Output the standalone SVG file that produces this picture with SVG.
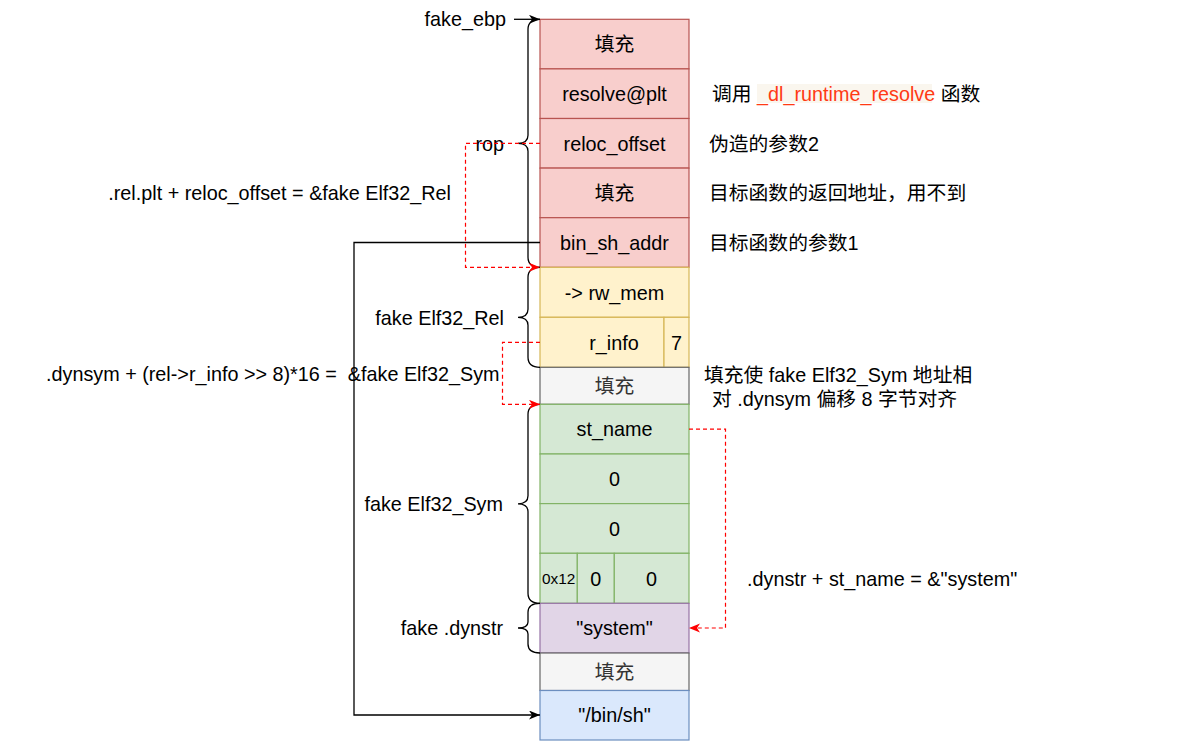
<svg xmlns="http://www.w3.org/2000/svg" width="1180" height="751" viewBox="0 0 1180 751">
<style>
text{font-family:"Liberation Sans","Noto Sans CJK SC",sans-serif;font-size:19.8px;fill:#000}
.c{text-anchor:middle}
.e{text-anchor:end}
.g{fill:#333333}
.red rect{fill:#f8cecc;stroke:#b85450;stroke-width:1.2}
.yel rect{fill:#fff2cc;stroke:#d6b656;stroke-width:1.2}
.gry rect{fill:#f5f5f5;stroke:#666666;stroke-width:1.2}
.grn rect{fill:#d5e8d4;stroke:#82b366;stroke-width:1.2}
.pur rect{fill:#e1d5e7;stroke:#9673a6;stroke-width:1.2}
.blu rect{fill:#dae8fc;stroke:#6c8ebf;stroke-width:1.2}
.brace{fill:none;stroke:#000;stroke-width:1.3}
.solid{fill:none;stroke:#000;stroke-width:1.3}
.dash{fill:none;stroke:#ff0000;stroke-width:1.2;stroke-dasharray:4 3}
</style>
<defs>
<marker id="ab" markerUnits="userSpaceOnUse" markerWidth="12" markerHeight="10" refX="11" refY="4.5" orient="auto">
<path d="M0,0 L11,4.5 L0,9 L3,4.5 Z" fill="#000"/>
</marker>
<marker id="ar" markerUnits="userSpaceOnUse" markerWidth="12" markerHeight="10" refX="11" refY="4.5" orient="auto">
<path d="M0,0 L11,4.5 L0,9 L3,4.5 Z" fill="#ff0000"/>
</marker>
</defs>
<rect width="1180" height="751" fill="#ffffff"/>

<g id="n-fill1" class="red"><rect x="540" y="19.3" width="149" height="49.6"/><text class="c" x="614.5" y="51">填充</text></g>
<g id="n-resolve" class="red"><rect x="540" y="68.9" width="149" height="49.6"/><text class="c" x="614.5" y="101">resolve@plt</text></g>
<g id="n-reloc" class="red"><rect x="540" y="118.5" width="149" height="49.6"/><text class="c" x="614.5" y="151">reloc_offset</text></g>
<g id="n-fill2" class="red"><rect x="540" y="168.1" width="149" height="49.6"/><text class="c" x="614.5" y="200">填充</text></g>
<g id="n-binsh-addr" class="red"><rect x="540" y="217.7" width="149" height="49.6"/><text class="c" x="614.5" y="250">bin_sh_addr</text></g>

<g id="n-rwmem" class="yel"><rect x="540" y="267.3" width="149" height="50"/><text class="c" x="614.5" y="300">-&gt; rw_mem</text></g>
<g id="n-rinfo" class="yel"><rect x="540" y="317.3" width="124" height="50"/><text class="c" x="614" y="350">r_info</text></g>
<g id="n-seven" class="yel"><rect x="664" y="317.3" width="25" height="50"/><text class="c" x="676.5" y="350">7</text></g>

<g id="n-fill3" class="gry"><rect x="540" y="367.3" width="149" height="37"/><text class="c g" x="614.5" y="393">填充</text></g>

<g id="n-stname" class="grn"><rect x="540" y="404.3" width="149" height="49.7"/><text class="c" x="614.5" y="436">st_name</text></g>
<g id="n-zero1" class="grn"><rect x="540" y="454" width="149" height="49.6"/><text class="c" x="614.5" y="486">0</text></g>
<g id="n-zero2" class="grn"><rect x="540" y="503.6" width="149" height="49.7"/><text class="c" x="614.5" y="536">0</text></g>
<g id="n-0x12" class="grn"><rect x="540" y="553.3" width="37.3" height="50"/><text class="c" x="558.6" y="584" style="font-size:15.4px">0x12</text></g>
<g id="n-zero3" class="grn"><rect x="577.3" y="553.3" width="37" height="50"/><text class="c" x="595.8" y="586">0</text></g>
<g id="n-zero4" class="grn"><rect x="614.3" y="553.3" width="74.7" height="50"/><text class="c" x="651.6" y="586">0</text></g>

<g id="n-system" class="pur"><rect x="540" y="603.3" width="149" height="49.7"/><text class="c" x="614.5" y="635">"system"</text></g>
<g id="n-fill4" class="gry"><rect x="540" y="653" width="149" height="37.5"/><text class="c g" x="614.5" y="679">填充</text></g>
<g id="n-binsh" class="blu"><rect x="540" y="690.5" width="149" height="49.5"/><text class="c" x="614.5" y="722">"/bin/sh"</text></g>

<g id="braces">
<path class="brace" d="M540,19.3 Q528,19.3 528,29.3 L528,135.3 Q528,143.3 518,143.3 Q528,143.3 528,151.3 L528,257.3 Q528,267.3 540,267.3"/>
<path class="brace" d="M540,267.3 Q528,267.3 528,277.3 L528,309.3 Q528,317.3 518,317.3 Q528,317.3 528,325.3 L528,357.3 Q528,367.3 540,367.3"/>
<path class="brace" d="M540,404.3 Q528,404.3 528,414.3 L528,495.8 Q528,503.8 518,503.8 Q528,503.8 528,511.8 L528,593.3 Q528,603.3 540,603.3"/>
<path class="brace" d="M540,603.3 Q528,603.3 528,612.3 L528,622 Q528,628 518,628 Q528,628 528,634 L528,644 Q528,653 540,653"/>
</g>

<g id="labels">
<text class="e" x="506" y="26">fake_ebp</text>
<text class="e" x="504" y="151">rop</text>
<text class="e" x="451" y="200">.rel.plt + reloc_offset = &amp;fake Elf32_Rel</text>
<text class="e" x="504" y="325">fake Elf32_Rel</text>
<text x="46" y="381" xml:space="preserve" style="white-space:pre">.dynsym + (rel-&gt;r_info &gt;&gt; 8)*16 =  &amp;fake Elf32_Sym</text>
<text class="e" x="503" y="511">fake Elf32_Sym</text>
<text class="e" x="503" y="635">fake .dynstr</text>
<rect x="757" y="84" width="175" height="19" fill="#faf6ee"/>
<text x="712" y="101">调用 <tspan fill="#ff3a14">_dl_runtime_resolve</tspan> 函数</text>
<text x="709" y="151">伪造的参数2</text>
<text x="709" y="200">目标函数的返回地址，用不到</text>
<text x="709" y="250">目标函数的参数1</text>
<text x="704" y="382">填充使 fake Elf32_Sym 地址相</text>
<text x="712" y="406">对 .dynsym 偏移 8 字节对齐</text>
<text x="747" y="586">.dynstr + st_name = &amp;"system"</text>
</g>

<g id="connectors">
<line class="solid" x1="514" y1="19.3" x2="540" y2="19.3" marker-end="url(#ab)"/>
<polyline class="solid" points="540,242.5 354,242.5 354,715 540,715" marker-end="url(#ab)"/>
<polyline class="dash" points="540,143.3 465.5,143.3 465.5,267.3 540,267.3" marker-end="url(#ar)"/>
<polyline class="dash" points="540,342.3 502.5,342.3 502.5,404.3 540,404.3" marker-end="url(#ar)"/>
<polyline class="dash" points="689,429.2 725.5,429.2 725.5,628 689,628" marker-end="url(#ar)"/>
</g>
</svg>
